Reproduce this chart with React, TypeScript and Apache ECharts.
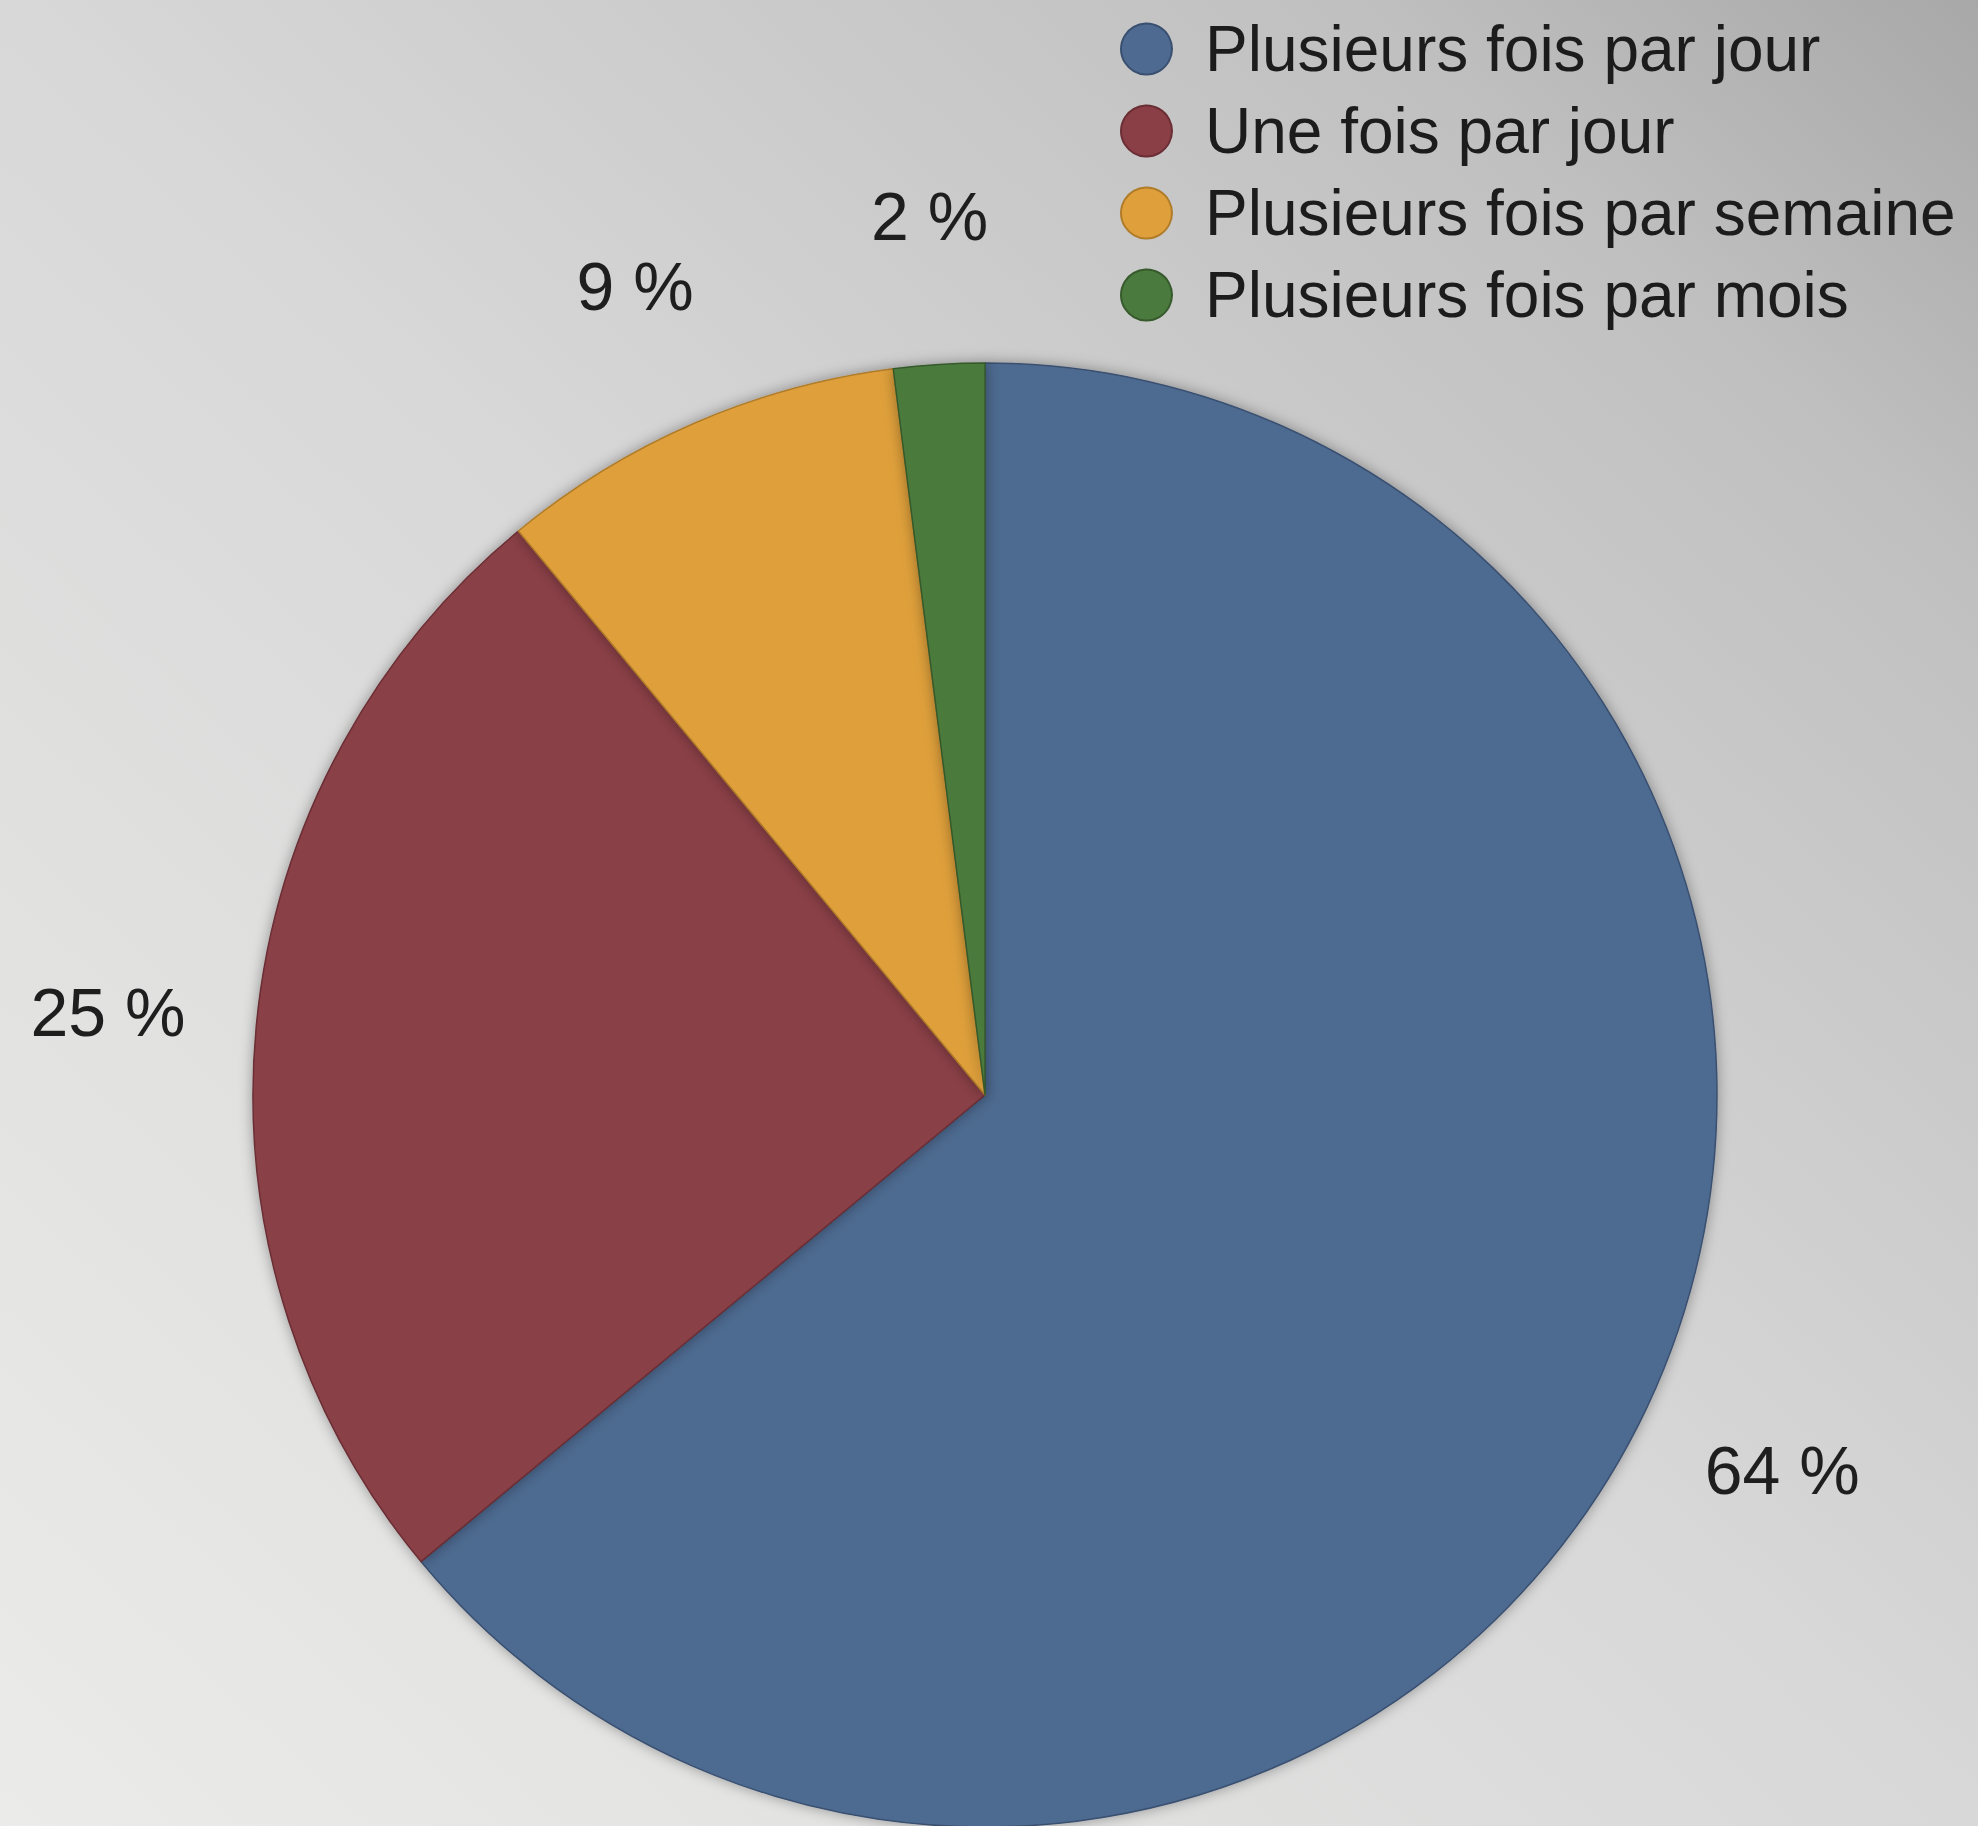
import React, { useEffect, useRef } from "react";
import * as echarts from "echarts";

const categories = [
  "Plusieurs fois par jour",
  "Une fois par jour",
  "Plusieurs fois par semaine",
  "Plusieurs fois par mois",
];
const values = [64, 25, 9, 2];
const colors = ["#4e6a90", "#8a3f47", "#dfa03b", "#4b7a3e"];
const borders = ["#3a5070", "#6a2e34", "#b07c2a", "#365a2c"];

const FONT = "'Liberation Sans', Arial, Helvetica, sans-serif";

export default function App() {
  const ref = useRef<HTMLDivElement>(null);
  useEffect(() => {
    document.body.style.margin = "0";
    document.body.style.overflow = "hidden";
    if (!ref.current) return;
    const chart = echarts.init(ref.current, undefined, { renderer: "svg" });
    const data = categories.map((name, i) => ({
      name,
      value: values[i],
      itemStyle: { color: colors[i], borderColor: borders[i] },
    }));
    const labelData = categories.map((name, i) => ({ name, value: values[i] }));
    chart.setOption({
      animation: false,
      backgroundColor: {
        type: "linear",
        x: 0,
        y: 1,
        x2: 1,
        y2: 0,
        colorStops: [
          { offset: 0, color: "#ebebea" },
          { offset: 0.5, color: "#d8d8d8" },
          { offset: 0.84, color: "#c0c0c0" },
          { offset: 1, color: "#a8a8a8" },
        ],
      },
      legend: {
        orient: "vertical",
        left: 1115,
        top: 12,
        icon: "circle",
        itemWidth: 51,
        itemHeight: 51,
        itemGap: 18,
        data: categories,
        selectedMode: false,
        textStyle: {
          fontFamily: FONT,
          fontSize: 64,
          lineHeight: 51,
          color: "#1c1c1c",
          padding: [0, 0, 0, 28],
        },
      },
      series: [
        {
          type: "pie",
          center: [985, 1095],
          radius: [0, 732],
          startAngle: 90,
          clockwise: true,
          silent: true,
          label: { show: false },
          labelLine: { show: false },
          itemStyle: {
            borderWidth: 1.5,
            shadowBlur: 14,
            shadowColor: "rgba(0,0,0,0.35)",
          },
          emphasis: { disabled: true },
          data,
        },
        {
          type: "pie",
          center: [985, 1095],
          radius: [868, 888],
          startAngle: 90,
          clockwise: true,
          silent: true,
          itemStyle: { color: "transparent", borderWidth: 0 },
          label: {
            show: true,
            position: "inside",
            rotate: 0,
            formatter: "{c} %",
            fontFamily: FONT,
            fontSize: 68,
            color: "#1e1e1e",
          },
          labelLine: { show: false },
          emphasis: { disabled: true },
          data: labelData,
        },
      ],
    });
    return () => chart.dispose();
  }, []);
  return <div ref={ref} style={{ width: 1978, height: 1826 }} />;
}
